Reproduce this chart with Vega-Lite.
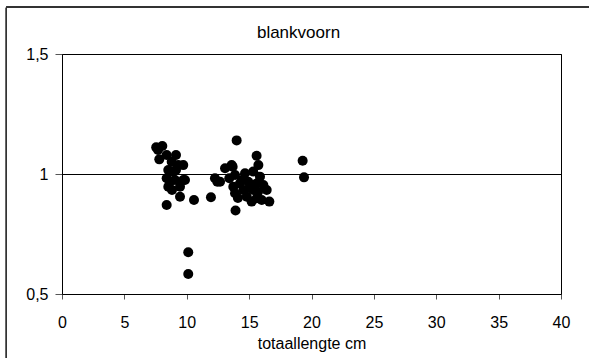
{
  "$schema": "https://vega.github.io/schema/vega-lite/v6.json",
  "width": 499,
  "height": 240,
  "autosize": {"type": "none"},
  "padding": {"left": 62, "top": 54, "right": 28, "bottom": 64},
  "background": "white",
  "config": {
    "font": "Liberation Sans",
    "view": {"stroke": "black", "strokeWidth": 1}
  },
  "title": {
    "text": "blankvoorn",
    "fontSize": 17,
    "fontWeight": "normal",
    "font": "Liberation Sans",
    "color": "black",
    "baseline": "alphabetic",
    "frame": "group",
    "anchor": "middle",
    "offset": -48,
    "dx": -13
  },
  "data": {
    "values": [
      {"lengte": 7.55, "waarde": 1.111},
      {"lengte": 8.04, "waarde": 1.117},
      {"lengte": 7.8, "waarde": 1.061},
      {"lengte": 8.39, "waarde": 1.079},
      {"lengte": 9.14, "waarde": 1.079},
      {"lengte": 8.79, "waarde": 1.051},
      {"lengte": 9.72, "waarde": 1.037},
      {"lengte": 8.52, "waarde": 1.017},
      {"lengte": 8.92, "waarde": 1.01},
      {"lengte": 8.39, "waarde": 0.982},
      {"lengte": 9.72, "waarde": 0.975},
      {"lengte": 8.52, "waarde": 0.947},
      {"lengte": 9.46, "waarde": 0.947},
      {"lengte": 9.46, "waarde": 0.905},
      {"lengte": 8.39, "waarde": 0.871},
      {"lengte": 10.58, "waarde": 0.892},
      {"lengte": 10.12, "waarde": 0.674},
      {"lengte": 10.12, "waarde": 0.583},
      {"lengte": 9.14, "waarde": 1.017},
      {"lengte": 9.06, "waarde": 0.975},
      {"lengte": 8.82, "waarde": 0.933},
      {"lengte": 7.7, "waarde": 1.1},
      {"lengte": 9.32, "waarde": 1.037},
      {"lengte": 8.66, "waarde": 0.968},
      {"lengte": 9.86, "waarde": 0.975},
      {"lengte": 11.94, "waarde": 0.903},
      {"lengte": 12.26, "waarde": 0.982},
      {"lengte": 12.45, "waarde": 0.968},
      {"lengte": 13.07, "waarde": 1.024},
      {"lengte": 13.6, "waarde": 1.037},
      {"lengte": 13.41, "waarde": 0.982},
      {"lengte": 14.0, "waarde": 1.14},
      {"lengte": 13.91, "waarde": 0.848},
      {"lengte": 15.6, "waarde": 1.076},
      {"lengte": 15.74, "waarde": 1.037},
      {"lengte": 19.29, "waarde": 1.055},
      {"lengte": 19.4, "waarde": 0.986},
      {"lengte": 16.62, "waarde": 0.885},
      {"lengte": 13.68, "waarde": 1.03},
      {"lengte": 13.87, "waarde": 0.996},
      {"lengte": 14.67, "waarde": 1.003},
      {"lengte": 15.33, "waarde": 1.01},
      {"lengte": 15.87, "waarde": 0.989},
      {"lengte": 14.93, "waarde": 0.968},
      {"lengte": 14.27, "waarde": 0.961},
      {"lengte": 13.73, "waarde": 0.947},
      {"lengte": 15.61, "waarde": 0.961},
      {"lengte": 16.14, "waarde": 0.954},
      {"lengte": 16.41, "waarde": 0.933},
      {"lengte": 15.33, "waarde": 0.933},
      {"lengte": 14.53, "waarde": 0.933},
      {"lengte": 13.87, "waarde": 0.92},
      {"lengte": 14.81, "waarde": 0.905},
      {"lengte": 15.61, "waarde": 0.899},
      {"lengte": 16.01, "waarde": 0.892},
      {"lengte": 15.2, "waarde": 0.885},
      {"lengte": 14.1, "waarde": 0.9},
      {"lengte": 14.43, "waarde": 0.975},
      {"lengte": 15.07, "waarde": 0.942},
      {"lengte": 15.71, "waarde": 0.925},
      {"lengte": 12.67, "waarde": 0.968}
    ]
  },
  "layer": [
    {
      "mark": {"type": "rect", "fill": null, "stroke": "#333333", "strokeWidth": 1, "clip": false},
      "encoding": {
        "x": {"datum": -4.45, "type": "quantitative", "scale": {"domain": [0, 40]}},
        "x2": {"datum": 43.5},
        "y": {"datum": 1.694, "type": "quantitative", "scale": {"domain": [0.5, 1.5]}},
        "y2": {"datum": 0.15}
      }
    },
    {
      "mark": {"type": "point", "filled": true, "color": "black", "opacity": 1, "size": 100, "shape": "circle"},
      "encoding": {
        "x": {
          "field": "lengte",
          "type": "quantitative",
          "scale": {"domain": [0, 40], "nice": false, "zero": false},
          "axis": {
            "title": "totaallengte cm",
            "values": [0, 5, 10, 15, 20, 25, 30, 35, 40],
            "grid": false,
            "domain": true,
            "domainColor": "black",
            "tickColor": "#555555",
            "tickSize": 5,
            "labelFontSize": 16,
            "labelColor": "black",
            "labelPadding": 15,
            "labelFlush": false,
            "labelOverlap": false,
            "labelFont": "Liberation Sans",
            "titleFont": "Liberation Sans",
            "titleFontSize": 16,
            "titleFontWeight": "normal",
            "titleColor": "black",
            "titlePadding": 5
          }
        },
        "y": {
          "field": "waarde",
          "type": "quantitative",
          "scale": {"domain": [0.5, 1.5], "nice": false, "zero": false},
          "axis": {
            "title": null,
            "values": [0.5, 1, 1.5],
            "labelExpr": "replace(toString(datum.value), '.', ',')",
            "grid": true,
            "gridColor": "black",
            "gridWidth": 1,
            "gridOpacity": 1,
            "domain": true,
            "domainColor": "black",
            "tickColor": "#555555",
            "tickSize": 7,
            "labelFontSize": 16,
            "labelColor": "black",
            "labelPadding": 7,
            "labelFlush": false,
            "labelOverlap": false,
            "labelFont": "Liberation Sans"
          }
        }
      }
    }
  ]
}
